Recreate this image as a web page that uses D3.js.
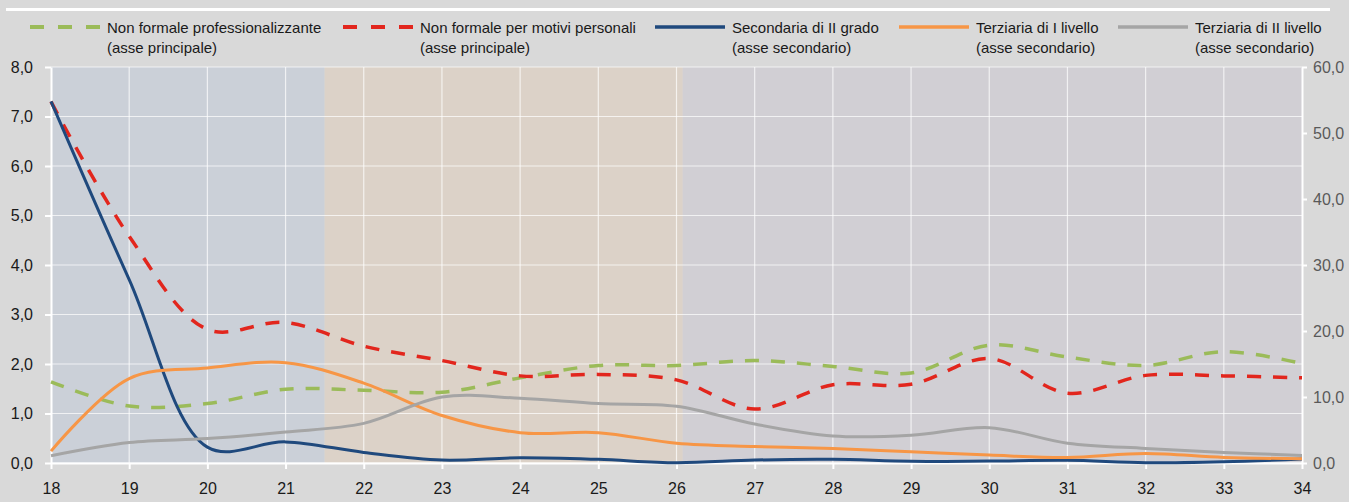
<!DOCTYPE html>
<html><head><meta charset="utf-8">
<script src="https://cdn.jsdelivr.net/npm/d3@7"></script>
<style>
html,body{margin:0;padding:0;background:#d9d9d9;}
svg{display:block;font-family:"Liberation Sans",Arial,sans-serif;}
</style></head>
<body><svg id="c" width="1349" height="502"></svg>
<script>
const ages = [18,19,20,21,22,23,24,25,26,27,28,29,30,31,32,33,34];
const nonFormProf = [1.64,1.15,1.2,1.49,1.47,1.43,1.72,1.97,1.97,2.07,1.95,1.82,2.38,2.14,1.97,2.25,2.01];
const nonFormPers = [7.3,4.58,2.7,2.84,2.36,2.07,1.76,1.79,1.68,1.09,1.58,1.59,2.11,1.41,1.77,1.76,1.72];
const secondaria = [54.8,27.8,2.4,3.2,1.6,0.45,0.8,0.55,0.05,0.45,0.55,0.25,0.3,0.4,0.05,0.2,0.6];
const terziaria1 = [1.8,12.8,14.4,15.2,12.1,7.2,4.6,4.6,3.0,2.5,2.2,1.7,1.2,0.85,1.45,0.85,0.65];
const terziaria2 = [1.1,3.1,3.7,4.7,6.0,10.0,9.8,9.0,8.6,5.9,4.1,4.2,5.35,3.0,2.2,1.6,1.15];
const leftTicks = [0,1,2,3,4,5,6,7,8];
const rightTicks = [0,10,20,30,40,50,60];
const bands = [[18,21.5],[21.5,26.08],[26.08,34]];
const bandColors = ["#cbd0d8","#dcd2c8","#d1cfd4"];
const legendNames = [["Non formale professionalizzante","(asse principale)"],["Non formale per motivi personali","(asse principale)"],["Secondaria di II grado","(asse secondario)"],["Terziaria di I livello","(asse secondario)"],["Terziaria di II livello","(asse secondario)"]];
const colors = ["#9bbb59","#e2261d","#1f497d","#f79646","#a5a5a5"];
const dashed = [true,true,false,false,false];
const legendX = [30,343,655,899,1118];

const svg = d3.select("#c");
const x = d3.scaleLinear().domain([18,34]).range([51,1302]);
const yL = d3.scaleLinear().domain([0,8]).range([463,67]);
const yR = d3.scaleLinear().domain([0,60]).range([463,67]);
const fmt = d => d.toFixed(1).replace('.',',');

// top white rule
svg.append("rect").attr("x",6).attr("y",8).attr("width",1324).attr("height",3).attr("fill","#ffffff");

// bands
svg.selectAll("rect.band").data(bands).enter().append("rect").attr("class","band")
  .attr("x",d=>x(d[0])).attr("y",yL(8)).attr("width",d=>x(d[1])-x(d[0])).attr("height",yL(0)-yL(8))
  .attr("fill",(d,i)=>bandColors[i]);

// grid
const g = svg.append("g");
g.selectAll("line.h").data(leftTicks).enter().append("line")
  .attr("x1",x(18)).attr("x2",x(34)).attr("y1",d=>yL(d)).attr("y2",d=>yL(d))
  .attr("stroke","#ffffff").attr("stroke-opacity",0.7).attr("stroke-width",1.2);
g.selectAll("line.v").data(ages.slice(1,-1)).enter().append("line")
  .attr("y1",yL(0)).attr("y2",yL(8)).attr("x1",d=>x(d)).attr("x2",d=>x(d))
  .attr("stroke","#ffffff").attr("stroke-opacity",0.7).attr("stroke-width",1.2);

// axes
function styleAxis(sel, col){
  sel.selectAll("path.domain").attr("stroke","#ffffff").attr("stroke-width",2);
  sel.selectAll(".tick line").attr("stroke","#ffffff").attr("stroke-width",2);
  sel.selectAll("text").attr("fill",col).attr("font-size",16).attr("font-family",'"Liberation Sans",Arial,sans-serif');
}
const axL = svg.append("g").attr("transform",`translate(${x(18)},0)`)
  .call(d3.axisLeft(yL).tickValues(leftTicks).tickFormat(fmt).tickSize(6).tickPadding(12).tickSizeOuter(0));
styleAxis(axL,"#1a1a1a");
const axR = svg.append("g").attr("transform",`translate(${x(34)},0)`)
  .call(d3.axisRight(yR).tickValues(rightTicks).tickFormat(fmt).tickSize(5).tickPadding(6).tickSizeOuter(0));
styleAxis(axR,"#595959");
const axB = svg.append("g").attr("transform",`translate(0,${yL(0)})`)
  .call(d3.axisBottom(x).tickValues(ages).tickFormat(d=>d).tickSize(6).tickPadding(14).tickSizeOuter(0));
styleAxis(axB,"#1a1a1a");

// lines
const series = [
  {v:nonFormProf, y:yL},
  {v:nonFormPers, y:yL},
  {v:secondaria, y:yR},
  {v:terziaria1, y:yR},
  {v:terziaria2, y:yR}
];
series.forEach((s,i)=>{
  const line = d3.line().x((d,j)=>x(ages[j])).y(d=>s.y(d)).curve(d3.curveCatmullRom.alpha(0.5));
  svg.append("path").datum(s.v).attr("d",line).attr("fill","none")
    .attr("stroke",colors[i]).attr("stroke-width",dashed[i]?3.5:3)
    .attr("stroke-dasharray",dashed[i]?"14,12":null)
    .attr("stroke-linejoin","round");
});

// legend
const lg = svg.append("g");
legendNames.forEach((n,i)=>{
  const lx = legendX[i];
  lg.append("line").attr("x1",lx).attr("x2",lx+70).attr("y1",27).attr("y2",27)
    .attr("stroke",colors[i]).attr("stroke-width",dashed[i]?4:3.5)
    .attr("stroke-dasharray",dashed[i]?"14,14":null);
  const t = lg.append("text").attr("x",lx+77).attr("y",33).attr("font-size",15).attr("fill","#1a1a1a");
  t.append("tspan").attr("x",lx+77).attr("y",33).text(n[0]);
  t.append("tspan").attr("x",lx+77).attr("y",53).text(n[1]);
});
</script></body></html>
